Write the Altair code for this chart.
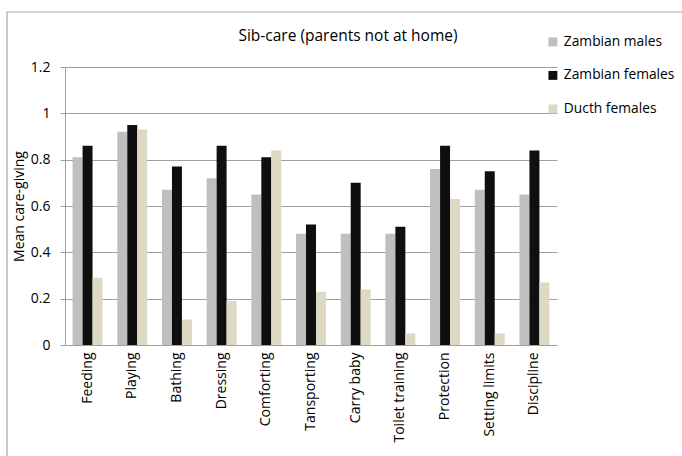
import altair as alt
import pandas as pd

categories = ["Feeding", "Playing", "Bathing", "Dressing", "Comforting", "Tansporting",
              "Carry baby", "Toilet training", "Protection", "Setting limits", "Discipline"]
series = ["Zambian males", "Zambian females", "Ducth females"]
zambian_males = [0.81, 0.92, 0.67, 0.72, 0.65, 0.48, 0.48, 0.48, 0.76, 0.67, 0.65]
zambian_females = [0.86, 0.95, 0.77, 0.86, 0.81, 0.52, 0.70, 0.51, 0.86, 0.75, 0.84]
dutch_females = [0.29, 0.93, 0.11, 0.19, 0.84, 0.23, 0.24, 0.05, 0.63, 0.05, 0.27]
colors = ["#BFBFBF", "#0F0F0F", "#DDD9C4"]
title_text = "Sib-care (parents not at home)"

rows = []
for vals, s in zip([zambian_males, zambian_females, dutch_females], series):
    for c, v in zip(categories, vals):
        rows.append({"Activity": c, "Group": s, "Value": v})
df = pd.DataFrame(rows)

FONT = "Open Sans"

bars = alt.Chart(df).mark_bar().encode(
    x=alt.X("Activity:N", sort=categories,
            scale=alt.Scale(paddingInner=0.33, paddingOuter=0.17),
            axis=alt.Axis(title=None, labelAngle=270, labelAlign="right", labelBaseline="middle",
                          ticks=False, domainColor="#A0A0A0", labelFont=FONT, labelFontSize=14,
                          labelColor="#000000", labelPadding=7)),
    xOffset=alt.XOffset("Group:N", sort=series),
    y=alt.Y("Value:Q", scale=alt.Scale(domain=[0, 1.2]),
            axis=alt.Axis(title="Mean care-giving", values=[0, 0.2, 0.4, 0.6, 0.8, 1.0, 1.2],
                          format="~g", gridColor="#A0A0A0", domainColor="#A0A0A0",
                          tickColor="#A0A0A0", tickSize=5, labelFont=FONT, labelFontSize=14,
                          labelColor="#000000", titleFont=FONT, titleFontSize=14,
                          titleFontWeight="normal", titleColor="#000000", labelPadding=10,
                          titlePadding=4)),
    color=alt.Color("Group:N", sort=series, scale=alt.Scale(domain=series, range=colors),
                    legend=alt.Legend(title=None, orient="none", legendX=481, legendY=-32,
                                      padding=0, symbolType="square", symbolSize=80,
                                      symbolStrokeWidth=0, rowPadding=18.5, labelFont=FONT,
                                      labelFontSize=13.8, labelColor="#000000", labelOffset=4,
                                      labelLimit=200)),
)

frame = alt.Chart(pd.DataFrame({"a": [0]})).mark_rect(
    fill=None, stroke="#A6A6A6", strokeWidth=1.2, clip=False
).encode(x=alt.value(-58), x2=alt.value(640), y=alt.value(-55), y2=alt.value(420))

title = alt.Chart(pd.DataFrame({"t": [title_text]})).mark_text(
    font=FONT, fontSize=15.5, color="#000000", align="center", baseline="middle"
).encode(text="t:N", x=alt.value(283), y=alt.value(-31))

chart = alt.layer(frame, title, bars).properties(
    width=492, height=278,
    padding={"left": 65, "top": 67, "right": 125, "bottom": 111},
    autosize=alt.AutoSizeParams(type="none"),
).configure_view(stroke=None)

chart.save("out.html", embed_options={"renderer": "svg", "actions": False})
